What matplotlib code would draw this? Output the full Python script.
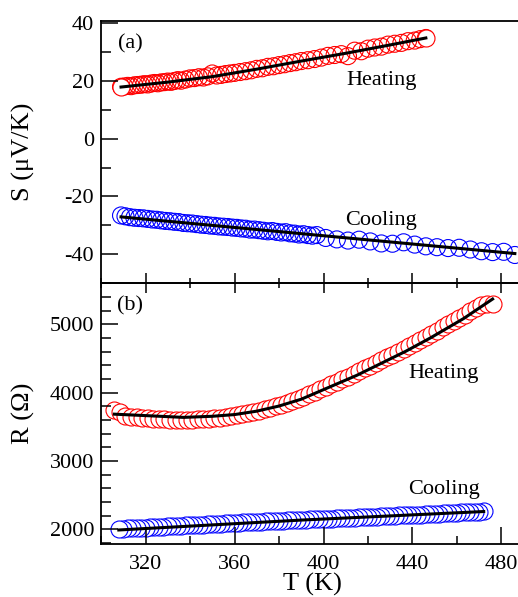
import matplotlib
matplotlib.use("Agg")
import matplotlib.pyplot as plt
from matplotlib.ticker import MultipleLocator, FuncFormatter

plt.rcParams['font.family'] = ['Liberation Serif', 'DejaVu Serif']
plt.rcParams['axes.unicode_minus'] = False

# ---- (a) thermopower ----
T_S_heat = [309, 310.5, 312, 313.5, 315, 316.5, 318, 319.5, 321, 322.5, 324, 325.5, 327, 328.5,
            330, 331.5, 333, 334.5, 336, 338, 340, 342, 344, 346, 348, 350, 352, 354, 356, 358,
            360, 362.5, 365, 367.5, 370, 372.5, 375, 377.5, 380, 382.5, 385, 387.5, 390, 393,
            396, 399, 402, 405, 408, 411, 414, 417, 420, 423, 426, 429, 432, 435, 438, 441,
            443.5, 446]
S_heat = [18.0, 18.1, 18.3, 18.2, 18.5, 18.6, 18.7, 18.9, 18.8, 19.1, 19.3, 19.2, 19.5, 19.6,
          19.8, 19.7, 20.0, 20.3, 20.1, 20.5, 20.9, 21.0, 21.3, 21.2, 21.6, 22.6, 21.9, 22.1,
          22.4, 22.6, 22.8, 23.1, 23.4, 23.7, 24.2, 24.4, 24.9, 25.1, 25.5, 25.8, 26.2, 26.5,
          26.9, 27.2, 27.6, 28.1, 28.7, 29.0, 29.3, 28.6, 30.5, 30.3, 31.2, 31.6, 31.9, 32.6,
          32.9, 33.2, 33.8, 34.0, 34.5, 34.9]
T_S_heat_fit = [309, 330, 350, 370, 390, 410, 430, 446]
S_heat_fit = [17.9, 19.6, 21.5, 24.1, 26.9, 29.6, 32.5, 34.9]

T_S_cool = [309, 311, 313, 315, 317, 319, 321, 323, 325, 327, 329, 331, 333, 335, 337, 339,
            341, 343, 345, 347, 349, 351, 353, 355, 357, 359, 361, 363, 365, 367, 369, 371,
            373, 375, 377, 379, 381, 383, 385, 387, 389, 391, 393, 395, 397, 401, 406, 411,
            416, 421, 426, 431, 436, 441, 446, 451, 456, 461, 466, 471, 476, 481, 486]
S_cool = [-26.6, -26.9, -27.2, -27.4, -27.5, -27.6, -27.8, -28.0, -28.1, -28.3, -28.5, -28.6,
          -28.8, -28.9, -29.2, -29.3, -29.4, -29.6, -29.8, -29.9, -30.1, -30.2, -30.4, -30.5,
          -30.6, -30.8, -30.9, -31.1, -31.2, -31.5, -31.5, -31.7, -31.9, -32.1, -32.0, -32.3,
          -32.5, -32.4, -32.8, -32.9, -33.2, -33.1, -33.4, -33.6, -33.4, -34.4, -34.9, -35.3,
          -35.0, -35.6, -36.3, -36.4, -35.9, -36.7, -37.3, -37.6, -37.9, -37.8, -38.4, -39.0,
          -39.3, -39.2, -40.3]
T_S_cool_fit = [309, 486]
S_cool_fit = [-27.1, -39.8]

# ---- (b) resistance ----
T_R_heat = [306, 308.5, 311, 313.5, 316, 318.5, 321, 323.5, 326, 328.5, 331, 333.5, 336, 338.5,
            341, 343.5, 346, 348.5, 351, 353.5, 356, 358.5, 361, 363.5, 366, 368.5, 371, 373.5,
            376, 378.5, 381, 383.5, 386, 388.5, 391, 393.5, 396, 398.5, 401, 403.5, 406, 408.5,
            411, 413.5, 416, 418.5, 421, 423.5, 426, 428.5, 431, 433.5, 436, 438.5, 441, 443.5,
            446, 448.5, 451, 453.5, 456, 458.5, 461, 463.5, 466, 468.5, 471, 473.5, 476]
R_heat = [3740, 3712, 3665, 3650, 3640, 3632, 3625, 3620, 3612, 3610, 3604, 3602, 3600, 3602,
          3604, 3610, 3614, 3620, 3628, 3636, 3645, 3655, 3668, 3684, 3700, 3716, 3734, 3756,
          3778, 3800, 3824, 3852, 3880, 3908, 3940, 3978, 4014, 4052, 4088, 4126, 4162, 4200,
          4236, 4272, 4312, 4354, 4394, 4436, 4476, 4516, 4558, 4598, 4640, 4682, 4726, 4770,
          4814, 4860, 4906, 4954, 5000, 5048, 5094, 5142, 5194, 5246, 5290, 5295, 5300]
T_R_heat_fit = [306, 320, 337, 350, 360, 370, 380, 390, 403, 415, 425, 437, 448, 463, 476]
R_heat_fit = [3685, 3664, 3638, 3654, 3679, 3729, 3804, 3904, 4086, 4254, 4414, 4606, 4800,
              5085, 5370]

T_R_cool = [308, 310, 312, 314, 316, 318, 320, 322, 324, 326, 328, 330, 332, 334, 336, 338,
            340, 342, 344, 346, 348, 350, 352, 354, 356, 358, 360, 362, 364, 366, 368, 370,
            372, 374, 376, 378, 380, 382, 384, 386, 388, 390, 392, 394, 396, 398, 400, 402,
            404, 406, 408, 410, 412, 414, 416, 418, 420, 422, 424, 426, 428, 430, 432, 434,
            436, 438, 440, 442, 444, 446, 448, 450, 452, 454, 456, 458, 460, 462, 464, 466,
            468, 470, 472]
R_cool = [2000, 2010, 2012, 2015, 2020, 2022, 2026, 2030, 2032, 2036, 2040, 2042, 2047, 2050,
          2053, 2056, 2060, 2062, 2066, 2070, 2072, 2076, 2080, 2083, 2086, 2090, 2093, 2096,
          2100, 2102, 2106, 2110, 2112, 2116, 2118, 2122, 2125, 2128, 2131, 2134, 2137, 2140,
          2142, 2145, 2148, 2150, 2153, 2156, 2158, 2161, 2164, 2166, 2170, 2172, 2175, 2178,
          2180, 2183, 2186, 2188, 2190, 2193, 2196, 2205, 2208, 2210, 2212, 2214, 2216, 2219,
          2221, 2224, 2230, 2236, 2238, 2240, 2242, 2246, 2250, 2253, 2256, 2258, 2262]
T_R_cool_fit = [308, 390, 472]
R_cool_fit = [1990, 2135, 2260]

RED = '#ff0000'
BLUE = '#0000ff'
MS = 150   # scatter marker area
EW = 0.8

fig = plt.figure(figsize=(5.18, 5.97), dpi=100)
ax1 = fig.add_axes([0.195, 0.526, 0.8075, 0.4389])
ax2 = fig.add_axes([0.195, 0.0888, 0.8075, 0.4372])
ax1.set_zorder(3)
ax1.patch.set_alpha(0)

# (a)
ax1.scatter(T_S_heat, S_heat, s=MS, facecolors='none', edgecolors=RED, linewidths=EW)
ax1.scatter([T_S_heat[0], T_S_heat[-1]], [S_heat[0], S_heat[-1]], s=MS,
            facecolors='white', edgecolors=RED, linewidths=EW)
ax1.scatter(T_S_cool, S_cool, s=MS, facecolors='none', edgecolors=BLUE, linewidths=EW)
ax1.plot(T_S_heat_fit, S_heat_fit, color='black', lw=2.2, zorder=5)
ax1.plot(T_S_cool_fit, S_cool_fit, color='black', lw=2.2, zorder=5)

# (b) white-filled circles, heating drawn low->high T, cooling high->low T
ax2.scatter(T_R_heat, R_heat, s=MS, facecolors='white', edgecolors=RED, linewidths=EW)
ax2.scatter(T_R_cool[::-1], R_cool[::-1], s=MS, facecolors='white', edgecolors=BLUE, linewidths=EW)
ax2.plot(T_R_heat_fit, R_heat_fit, color='black', lw=2.2, zorder=5)
ax2.plot(T_R_cool_fit, R_cool_fit, color='black', lw=2.2, zorder=5)

for ax in (ax1, ax2):
    ax.set_xlim(300, 488)
    ax.xaxis.set_major_locator(MultipleLocator(40))
    ax.xaxis.set_minor_locator(MultipleLocator(20))
    for sp in ax.spines.values():
        sp.set_linewidth(1.3)
    ax.tick_params(labelsize=16, width=1.1, which='both')

ax1.set_ylim(-50, 40.8)
ax1.yaxis.set_major_locator(MultipleLocator(20))
ax1.yaxis.set_minor_locator(MultipleLocator(10))
ax1.yaxis.set_major_formatter(FuncFormatter(lambda v, p: '%d' % v))
ax1.tick_params(axis='y', which='major', direction='in', length=12, pad=5, right=False)
ax1.tick_params(axis='y', which='minor', direction='in', length=7, right=False)
ax1.tick_params(axis='x', which='major', direction='inout', length=14, labelbottom=False, top=False)
ax1.tick_params(axis='x', which='minor', direction='inout', length=7, top=False)

ax2.set_ylim(1785, 5605)
ax2.yaxis.set_major_locator(MultipleLocator(1000))
ax2.yaxis.set_minor_locator(MultipleLocator(200))
ax2.tick_params(axis='y', which='major', direction='in', length=12, pad=5, right=False)
ax2.tick_params(axis='y', which='minor', direction='in', length=7, right=False)
ax2.tick_params(axis='x', which='major', direction='in', length=12, pad=8, top=False)
ax2.tick_params(axis='x', which='minor', direction='in', length=6, top=False)

ax1.set_ylabel('S (\u03bcV/K)', fontsize=19)
ax1.yaxis.set_label_coords(-0.158, 0.5)
ax2.set_ylabel('R (\u03a9)', fontsize=19)
ax2.yaxis.set_label_coords(-0.158, 0.5)
ax2.set_xlabel('T (K)', fontsize=19)
ax2.xaxis.set_label_coords(0.505, -0.112)

ax1.text(313, 33, '(a)', fontsize=16, ha='center', va='center')
ax1.text(426, 20, 'Heating', fontsize=16, ha='center', va='center')
ax1.text(426, -28.3, 'Cooling', fontsize=16, ha='center', va='center')
ax2.text(313, 5277, '(b)', fontsize=16, ha='center', va='center')
ax2.text(454, 4285, 'Heating', fontsize=16, ha='center', va='center')
ax2.text(454, 2577, 'Cooling', fontsize=16, ha='center', va='center')

fig.savefig('out.png', dpi=100)
